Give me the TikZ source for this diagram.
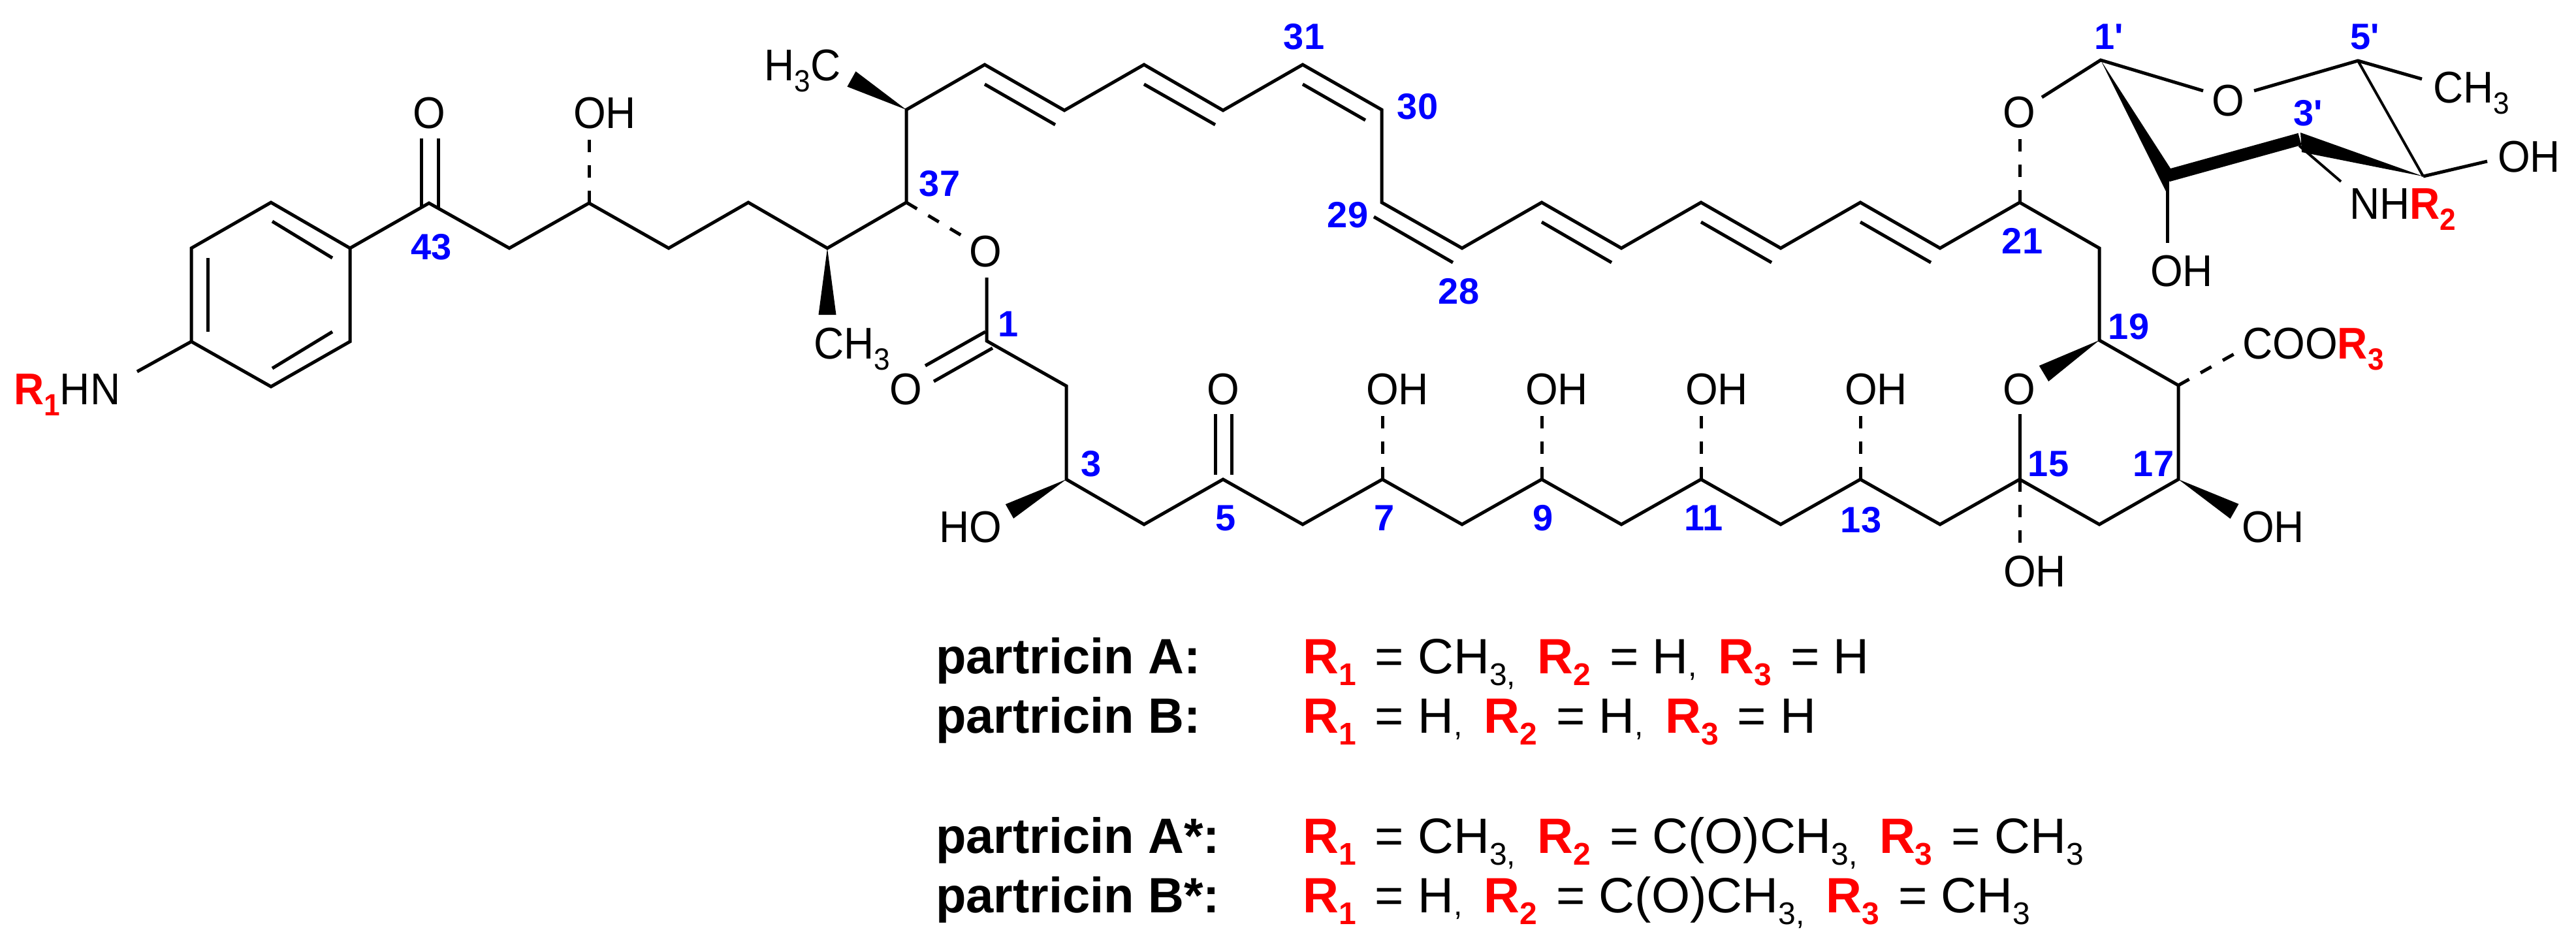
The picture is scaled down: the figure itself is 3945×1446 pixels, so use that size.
\documentclass[tikz,border=0pt]{standalone}
\usepackage{fontspec}
\setmainfont{Liberation Sans}
\newfontfamily\atomfont{Liberation Sans}[FakeStretch=0.94]
\newfontfamily\numfont{Liberation Sans}
\usetikzlibrary{calc}
\definecolor{numblue}{RGB}{0,0,255}
\definecolor{rred}{RGB}{255,0,0}
\newcommand{\sbs}[1]{\raisebox{-17pt}{\fontsize{47}{47}\selectfont #1}}
\newcommand{\rsub}[2]{{\color{rred}\bfseries #1\raisebox{-17pt}{\fontsize{47}{47}\selectfont #2}}}
\newcommand{\tsub}[1]{\raisebox{-18pt}{\fontsize{48}{48}\selectfont #1}}
\newcommand{\tsubc}[1]{\raisebox{-18pt}{\fontsize{48}{48}\selectfont #1,}\kern12pt\relax}
\newcommand{\tcm}{\raisebox{-4pt}{\fontsize{48}{48}\selectfont ,}\kern12pt\relax}
\newcommand{\trr}[1]{{\color{rred}\bfseries R\raisebox{-18pt}{\fontsize{48}{48}\selectfont #1}}\kern8pt\relax}
\newcommand{\wdg}[3]{\fill (#1) -- ($(#2)!#3pt!90:(#1)$) -- ($(#2)!#3pt!-90:(#1)$) -- cycle;}
\tikzset{
  x=1pt,y=-1pt,
  bond/.style={draw=black,line width=5pt,line join=miter},
  thinbond/.style={draw=black,line width=4pt},
  boldbond/.style={draw=black,line width=19pt},
  hash/.style={draw=black,line width=5pt,dash pattern=on 19pt off 20pt},
  atomlbl/.style={inner sep=0pt,anchor=base,font=\atomfont\fontsize{68}{68}\selectfont},
  atomleft/.style={inner sep=0pt,anchor=base west,font=\atomfont\fontsize{68}{68}\selectfont},
  numlbl/.style={inner sep=0pt,anchor=base,text=numblue,font=\numfont\fontsize{56}{56}\selectfont\bfseries},
  legend/.style={inner sep=0pt,anchor=base west,font=\fontsize{76}{76}\selectfont},
}
\begin{document}
\begin{tikzpicture}
\path[use as bounding box,fill=white] (0,0) rectangle (3945,1446);
% --- atoms
\foreach \n/\px/\py in {
 ra/415/310,rb/536/380,rc/536/523,rd/415/592,re/293/523,rf/293/380,
 nhe/210/569,
 k/657/311,l/780/380,m/902/311,mo/902/212,n/1024/380,p/1146/310,
 q/1267/380,qb/1267/482,c37/1388/310,c36/1388/168,mb/1304/121,
 d1/1508/99,d2/1630/169,d3/1752/99,d4/1873/169,c31/1995/99,c30/2116/168,
 c29/2116/310,c28/2239/380,e1/2361/310,e2/2483/380,e3/2605/310,e4/2727/380,
 e5/2849/310,e6/2971/380,c21/3093/310,c20/3215/380,c19/3215/521,c18/3336/590,
 c17/3336/734,c16/3215/803,c15/3093/734,c14/2971/803,c13/2849/734,c12/2727/803,
 c11/2605/734,c10/2483/803,c9/2361/734,c8/2239/803,c7/2117/734,c6/1995/803,
 c5/1873/734,c4/1752/803,c3/1633/734,c2/1633/591,c1/1511/522,
 oe1/1475/362,oe2/1511/425,coa1/1417/560,cob1/1509/508,coa2/1430/584,cob2/1520/533,
 o3w/1546/783,o7e/2117/634,o9e/2361/634,o11e/2605/634,o13e/2849/634,o15e/3093/634,
 o15h/3093/835,o19w/3130/572,coo/3425/540,o17w/3422/783,o21e/3093/212,
 s1/3217/92,s2/3320/269,s3/3522/213,s4/3711/270,s5/3611/93,so1/3127/149,
 sra/3374/139,srb/3452/139,sme/3709/121,s4o/3809/247,s2t/3319/270,s2o/3319/372,
 s3n/3521/223,s3e/3585/278,
 w1/3324/258,w2/3317/293,w3/3523/203,w4/3525/233,
 i1/417/339,i2/509/395,i3/509/508,i4/417/564,i5/318/395,i6/318/508,
 k1/645/212,k2/645/318,k3/671/212,k4/671/318,
 db1a/1508/129,db1b/1616/191,db2a/1752/129,db2b/1861/191,db3a/1995/129,db3b/2091/184,
 db4a/2104/332,db4b/2225/402,db5a/2361/340,db5b/2468/402,db6a/2605/340,db6b/2713/402,
 db7a/2849/340,db7b/2957/402,
 k5a/1861/634,k5b/1861/727,k5c/1886/634,k5d/1886/727}
 {\coordinate (\n) at (\px,\py);}
% --- benzene
\draw[bond] (ra) -- (rb) -- (rc) -- (rd) -- (re) -- (rf) -- cycle;
\foreach \a/\b in {i1/i2,i3/i4,i5/i6} \draw[bond] (\a) -- (\b);
\draw[bond] (re) -- (nhe);
% --- side chain
\draw[bond] (rb) -- (k) -- (l) -- (m) -- (n) -- (p) -- (q) -- (c37);
\draw[bond] (k1) -- (k2);
\draw[bond] (k3) -- (k4);
\draw[hash] (m) -- (mo);
\wdg{q}{qb}{13.5}
% --- macrocycle
\draw[bond] (c37) -- (c36) -- (d1) -- (d2) -- (d3) -- (d4) -- (c31) -- (c30) -- (c29) -- (c28) -- (e1) -- (e2) -- (e3) -- (e4) -- (e5) -- (e6) -- (c21) -- (c20) -- (c19) -- (c18) -- (c17) -- (c16) -- (c15) -- (c14) -- (c13) -- (c12) -- (c11) -- (c10) -- (c9) -- (c8) -- (c7) -- (c6) -- (c5) -- (c4) -- (c3) -- (c2) -- (c1) -- (oe2);
\wdg{c36}{mb}{13.4}
\foreach \a/\b in {db1a/db1b,db2a/db2b,db3a/db3b,db4a/db4b,db5a/db5b,db6a/db6b,db7a/db7b}
  \draw[bond] (\a) -- (\b);
% --- ester and hydroxyls
\draw[hash] (c37) -- (oe1);
\draw[bond] (coa1) -- (cob1);
\draw[bond] (coa2) -- (cob2);
\wdg{c3}{o3w}{12.5}
\draw[bond] (k5a) -- (k5b);
\draw[bond] (k5c) -- (k5d);
\foreach \a/\b in {c7/o7e,c9/o9e,c11/o11e,c13/o13e}
  \draw[hash] (\a) -- (\b);
\draw[bond] (c15) -- (o15e);
\draw[hash] (c15) -- (o15h);
\wdg{c19}{o19w}{14}
\draw[hash] (c18) -- (coo);
\wdg{c17}{o17w}{13}
\draw[hash] (c21) -- (o21e);
% --- sugar bonds
\draw[bond] (so1) -- (s1) -- (sra);
\draw[bond] (srb) -- (s5) -- (sme);
\draw[thinbond] (s5) -- (s4);
\draw[bond] (s4) -- (s4o);
\draw[bond] (s2t) -- (s2o);
\draw[thinbond] (s3n) -- (s3e);
\fill (s1) -- (w1) -- (w2) -- cycle;
\draw[boldbond] (s2) -- (s3);
\fill (s4) -- (w3) -- (w4) -- cycle;
% --- atom labels
\node[atomleft] (lr1) at (21,619) {\rsub{R}{1}HN};
\node[atomlbl] (lko) at (657,196) {O};
\node[atomlbl] (lmo) at (926,196) {OH};
\node[atomlbl] (lme1) at (1229,123) {H\sbs{3}C};
\node[atomlbl] (lme2) at (1305,549) {CH\sbs{3}};
\node[atomlbl] (lo1) at (1509,408) {O};
\node[atomlbl] (lo2) at (1387,619) {O};
\node[atomlbl] (lo3) at (1486,830) {HO};
\node[atomlbl] (lo5) at (1873,619) {O};
\node[atomlbl] (lo7) at (2140,619) {OH};
\node[atomlbl] (lo9) at (2384,619) {OH};
\node[atomlbl] (lo11) at (2629,619) {OH};
\node[atomlbl] (lo13) at (2873,619) {OH};
\node[atomlbl] (lo15r) at (3092,619) {O};
\node[atomlbl] (lo15) at (3116,898) {OH};
\node[atomlbl] (lo17) at (3481,830) {OH};
\node[atomleft] (lcoo) at (3434,549) {COO\rsub{R}{3}};
\node[atomlbl] (lo21) at (3092,195) {O};
\node[atomlbl] (lsr) at (3412,177) {O};
\node[atomlbl] (lsme) at (3785,157) {CH\sbs{3}};
\node[atomlbl] (ls4o) at (3873,263) {OH};
\node[atomlbl] (ls2o) at (3341,438) {OH};
\node[atomleft] (ls3n) at (3598,335) {NH\rsub{R}{2}};
% --- locants
\node[numlbl] (n31) at (1997,75) {31};
\node[numlbl] (n30) at (2171,182) {30};
\node[numlbl] (n37) at (1439,300) {37};
\node[numlbl] (n29) at (2064,348) {29};
\node[numlbl] (n28) at (2234,465) {28};
\node[numlbl] (n1) at (1544,515) {1};
\node[numlbl] (n3) at (1671,729) {3};
\node[numlbl] (n5) at (1877,812) {5};
\node[numlbl] (n7) at (2120,812) {7};
\node[numlbl] (n9) at (2363,812) {9};
\node[numlbl] (n11) at (2609,812) {11};
\node[numlbl] (n13) at (2850,815) {13};
\node[numlbl] (n15) at (3137,729) {15};
\node[numlbl] (n17) at (3298,729) {17};
\node[numlbl] (n19) at (3260,519) {19};
\node[numlbl] (n21) at (3097,388) {21};
\node[numlbl] (n43) at (661,397) {43};
\node[numlbl] (n1p) at (3230,75) {1'};
\node[numlbl] (n5p) at (3622,75) {5'};
\node[numlbl] (n3p) at (3535,192) {3'};
% --- legend
\node[legend] (t1) at (1433,1031) {\bfseries partricin A:};
\node[legend] (t2) at (1433,1122) {\bfseries partricin B:};
\node[legend] (t3) at (1433,1306) {\bfseries partricin A*:};
\node[legend] (t4) at (1433,1397) {\bfseries partricin B*:};
\node[legend] (v1) at (1995,1031) {\trr{1} = CH\tsubc{3} \trr{2} = H\tcm{} \trr{3} = H};
\node[legend] (v2) at (1995,1122) {\trr{1} = H\tcm{} \trr{2} = H\tcm{} \trr{3} = H};
\node[legend] (v3) at (1995,1306) {\trr{1} = CH\tsubc{3} \trr{2} = C(O)CH\tsubc{3} \trr{3} = CH\tsub{3}};
\node[legend] (v4) at (1995,1397) {\trr{1} = H\tcm{} \trr{2} = C(O)CH\tsubc{3} \trr{3} = CH\tsub{3}};
\end{tikzpicture}
\end{document}
